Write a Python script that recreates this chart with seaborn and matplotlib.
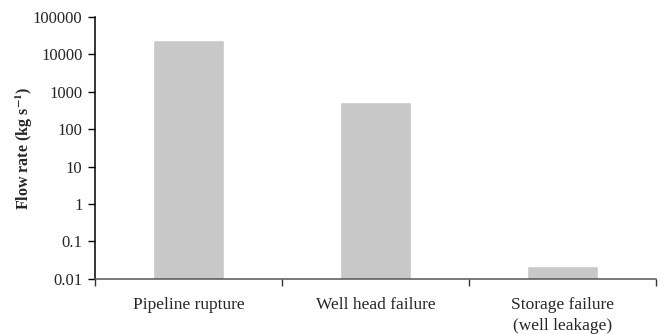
import matplotlib
matplotlib.use("Agg")
import matplotlib.pyplot as plt
import seaborn as sns
import pandas as pd
from matplotlib.ticker import FixedLocator, NullLocator, FixedFormatter

# --- Daten ---
categories = ["Pipeline rupture", "Well head failure", "Storage failure\n(well leakage)"]
flow_rate = [24000, 520, 0.022]
y_ticks = [0.01, 0.1, 1, 10, 100, 1000, 10000, 100000]
y_tick_labels = ["0.01", "0.1", "1", "10", "100", "1000", "10000", "100000"]

df = pd.DataFrame({"category": categories, "flow": flow_rate})

sns.set_style("white")
plt.rcParams["font.family"] = ["Liberation Serif", "DejaVu Serif"]
plt.rcParams["mathtext.fontset"] = "stix"

fig = plt.figure(figsize=(6.64, 3.34), dpi=100)
ax = fig.add_axes([0.143, 0.165, 0.845, 0.784])

sns.barplot(data=df, x="category", y="flow", color="#c8c8c8", width=0.375,
            saturation=1, ax=ax)
ax.set_yscale("log")

ax.set_ylim(0.01, 100000)
ax.set_xlim(-0.5, 2.5)
ax.yaxis.set_major_locator(FixedLocator(y_ticks))
ax.yaxis.set_major_formatter(FixedFormatter(y_tick_labels))
ax.yaxis.set_minor_locator(NullLocator())

# x: Striche an den Kategoriegrenzen, Beschriftung ohne Strich
ax.xaxis.set_minor_locator(FixedLocator([-0.5, 0.5, 1.5, 2.5]))
ax.tick_params(axis="x", which="major", length=0, pad=13, labelsize=12.5)
ax.tick_params(axis="x", which="minor", length=5, width=1, direction="out", color="#333333", bottom=True)
ax.tick_params(axis="y", which="major", length=5, width=1, direction="out", color="black",
               left=True, labelsize=12, pad=4)

for lab in ax.get_xticklabels():
    lab.set_verticalalignment("top")
    lab.set_linespacing(1.45)

sns.despine(ax=ax)
ax.spines["left"].set_color("black")
ax.spines["left"].set_linewidth(1.1)
ax.spines["bottom"].set_color("#555555")
ax.spines["bottom"].set_linewidth(1.1)

ax.set_xlabel("")
ax.set_ylabel(r"Flow rate (kg s$^{\mathbf{-1}}$)", fontsize=11.5, fontweight="bold")
ax.yaxis.set_label_coords(-0.106, 0.5)

fig.savefig("out.png", dpi=100)
